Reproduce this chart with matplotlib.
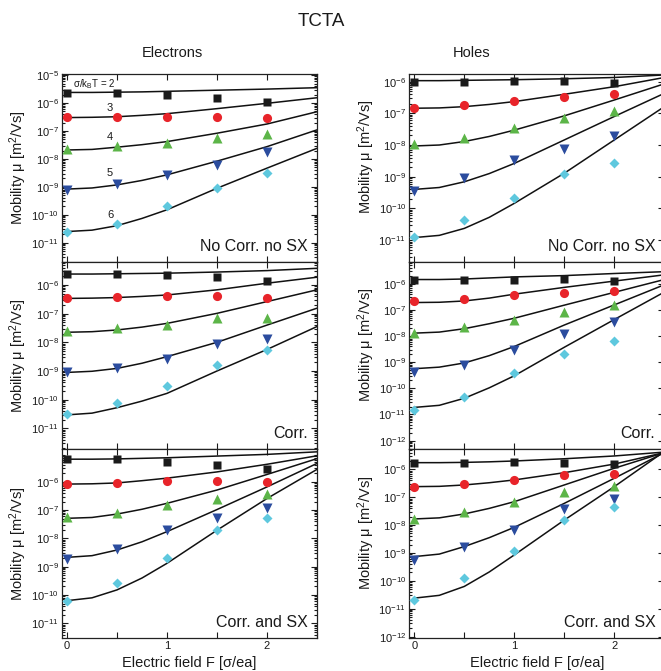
import numpy as np
import matplotlib
matplotlib.use("Agg")
import matplotlib.pyplot as plt
from matplotlib.ticker import LogLocator, NullFormatter, MultipleLocator, FixedLocator

plt.rcParams["font.family"] = ["Liberation Sans", "DejaVu Sans"]
plt.rcParams["mathtext.fontset"] = "custom"
plt.rcParams["mathtext.rm"] = "Liberation Sans"
plt.rcParams["mathtext.it"] = "Liberation Sans:italic"
plt.rcParams["mathtext.bf"] = "Liberation Sans:bold"

# field values of the simulation points and of the fitted curves [sigma/ea]
F_PTS = [0, 0.5, 1, 1.5, 2]
F_FIT = [0, 0.25, 0.5, 0.75, 1, 1.5, 2, 2.5]
SIGMAS = [2, 3, 4, 5, 6]

# log10 of mobility [m^2/Vs], one row per sigma/kBT = 2..6
el_nocorr_pts = [[-5.65, -5.65, -5.71, -5.83, -5.95],
                 [-6.49, -6.49, -6.49, -6.49, -6.52],
                 [-7.65, -7.54, -7.42, -7.26, -7.11],
                 [-9.13, -8.89, -8.57, -8.21, -7.77],
                 [-10.60, -10.32, -9.68, -9.05, -8.51]]
el_nocorr_fit = [[-5.62, -5.62, -5.61, -5.60, -5.58, -5.54, -5.50, -5.45],
                 [-6.52, -6.51, -6.49, -6.44, -6.38, -6.20, -6.01, -5.81],
                 [-7.68, -7.66, -7.58, -7.49, -7.38, -7.08, -6.75, -6.31],
                 [-9.08, -9.04, -8.93, -8.77, -8.57, -8.08, -7.56, -6.96],
                 [-10.60, -10.55, -10.39, -10.13, -9.82, -9.05, -8.33, -7.62]]

el_corr_pts = [[-5.62, -5.63, -5.67, -5.74, -5.86],
               [-6.44, -6.41, -6.38, -6.38, -6.44],
               [-7.60, -7.51, -7.40, -7.16, -7.14],
               [-9.05, -8.91, -8.58, -8.07, -7.90],
               [-10.50, -10.13, -9.51, -8.79, -8.27]]
el_corr_fit = [[-5.62, -5.62, -5.61, -5.60, -5.59, -5.55, -5.50, -5.42],
               [-6.47, -6.46, -6.44, -6.40, -6.35, -6.17, -5.94, -5.73],
               [-7.65, -7.63, -7.57, -7.47, -7.34, -6.99, -6.58, -6.17],
               [-9.05, -9.01, -8.91, -8.73, -8.50, -8.00, -7.40, -6.81],
               [-10.53, -10.47, -10.28, -10.05, -9.78, -9.00, -8.25, -7.45]]

el_sx_pts = [[-5.20, -5.21, -5.29, -5.41, -5.56],
             [-6.08, -6.04, -5.98, -5.98, -6.02],
             [-7.26, -7.09, -6.82, -6.59, -6.44],
             [-8.73, -8.39, -7.71, -7.29, -6.92],
             [-10.20, -9.56, -8.68, -7.71, -7.29]]
el_sx_fit = [[-5.20, -5.20, -5.19, -5.17, -5.15, -5.09, -5.03, -4.94],
             [-6.08, -6.07, -6.04, -5.96, -5.87, -5.65, -5.38, -5.08],
             [-7.29, -7.26, -7.14, -6.97, -6.76, -6.29, -5.74, -5.18],
             [-8.67, -8.61, -8.41, -8.12, -7.76, -6.98, -6.18, -5.35],
             [-10.20, -10.10, -9.82, -9.40, -8.88, -7.71, -6.59, -5.56]]

ho_nocorr_pts = [[-6.00, -6.00, -5.98, -5.98, -6.03],
                 [-6.82, -6.74, -6.60, -6.47, -6.40],
                 [-7.98, -7.77, -7.45, -7.16, -6.93],
                 [-9.44, -9.05, -8.47, -8.14, -7.72],
                 [-10.89, -10.37, -9.68, -8.93, -8.56]]
ho_nocorr_fit = [[-5.97, -5.97, -5.96, -5.95, -5.94, -5.91, -5.87, -5.79],
                 [-6.84, -6.83, -6.79, -6.72, -6.63, -6.40, -6.16, -5.87],
                 [-8.03, -8.00, -7.89, -7.73, -7.53, -7.08, -6.58, -6.07],
                 [-9.40, -9.34, -9.16, -8.90, -8.58, -7.84, -7.10, -6.37],
                 [-10.92, -10.85, -10.63, -10.28, -9.84, -8.89, -7.84, -6.79]]

ho_corr_pts = [[-5.86, -5.86, -5.84, -5.81, -5.90],
               [-6.68, -6.59, -6.44, -6.35, -6.29],
               [-7.89, -7.67, -7.39, -7.08, -6.82],
               [-9.37, -9.09, -8.53, -7.94, -7.46],
               [-10.81, -10.35, -9.43, -8.70, -8.18]]
ho_corr_fit = [[-5.84, -5.84, -5.82, -5.78, -5.74, -5.69, -5.61, -5.54],
               [-6.72, -6.71, -6.66, -6.55, -6.40, -6.14, -5.90, -5.66],
               [-7.89, -7.85, -7.72, -7.53, -7.32, -6.82, -6.33, -5.84],
               [-9.25, -9.19, -9.03, -8.75, -8.40, -7.58, -6.81, -6.04],
               [-10.73, -10.65, -10.38, -9.98, -9.52, -8.43, -7.37, -6.32]]

ho_sx_pts = [[-5.78, -5.76, -5.75, -5.76, -5.82],
             [-6.62, -6.53, -6.38, -6.20, -6.17],
             [-7.78, -7.54, -7.16, -6.80, -6.60],
             [-9.25, -8.77, -8.17, -7.43, -7.08],
             [-10.68, -9.91, -8.93, -7.82, -7.34]]
ho_sx_fit = [[-5.76, -5.76, -5.75, -5.73, -5.70, -5.62, -5.52, -5.38],
             [-6.62, -6.61, -6.56, -6.48, -6.38, -6.12, -5.81, -5.40],
             [-7.78, -7.74, -7.60, -7.40, -7.16, -6.56, -5.96, -5.40],
             [-9.13, -9.04, -8.77, -8.45, -8.08, -7.22, -6.32, -5.40],
             [-10.62, -10.52, -10.20, -9.68, -9.07, -7.82, -6.62, -5.36]]

panel_labels = ["No Corr. no SX", "Corr.", "Corr. and SX"]
# highest labelled decade in each panel (rows x columns)
top_decade = [[-5, -6], [-6, -6], [-6, -6]]

# marker style per sigma
markers = ["s", "o", "^", "v", "D"]
colors = ["#1a1a1a", "#e8242a", "#5cb548", "#2b4c9e", "#5ec8de"]
msizes = [6.2, 6.6, 7.2, 7.2, 5.6]

W, H = 661, 671
fig = plt.figure(figsize=(W / 100, H / 100), dpi=100)

col_left = [62, 409.3]
col_width = 255
row_top = [74, 262, 449]
row_bot = [262, 449, 638]

data = [[(el_nocorr_pts, el_nocorr_fit), (ho_nocorr_pts, ho_nocorr_fit)],
        [(el_corr_pts, el_corr_fit), (ho_corr_pts, ho_corr_fit)],
        [(el_sx_pts, el_sx_fit), (ho_sx_pts, ho_sx_fit)]]
ylims = [[(-11.69, -4.96), (-11.69, -5.76)],
         [(-11.72, -5.20), (-12.32, -5.17)],
         [(-11.52, -4.84), (-12.05, -5.27)]]

txt = "#1a1a1a"
axes = {}
for r in range(3):
    for c in range(2):
        ax = fig.add_axes([col_left[c] / W, 1 - row_bot[r] / H,
                           col_width / W, (row_bot[r] - row_top[r]) / H])
        axes[(r, c)] = ax
        pts, fit = data[r][c]
        for i in range(5):
            ax.plot(F_FIT, np.power(10.0, fit[i]), color="#111111", lw=1.1, zorder=2)
            ax.plot(F_PTS, np.power(10.0, pts[i]), ls="none", marker=markers[i],
                    ms=msizes[i], color=colors[i], mec="none", zorder=3)
        lo, hi = ylims[r][c]
        ax.set_yscale("log")
        ax.set_xlim(-0.05, 2.5)
        ax.set_ylim(10 ** lo, 10 ** hi)
        decades = [10.0 ** k for k in range(int(np.ceil(lo)), top_decade[r][c] + 1)]
        ax.yaxis.set_major_locator(FixedLocator(decades))
        ax.yaxis.set_minor_locator(LogLocator(base=10, subs=np.arange(2, 10), numticks=100))
        ax.yaxis.set_minor_formatter(NullFormatter())
        ax.xaxis.set_major_locator(MultipleLocator(1))
        ax.xaxis.set_minor_locator(MultipleLocator(0.5))
        ax.tick_params(which="both", direction="in", top=True, right=True,
                       colors=txt, labelsize=8, width=0.8, pad=2.5)
        ax.tick_params(which="major", length=4)
        ax.tick_params(which="minor", axis="y", length=2)
        ax.tick_params(which="minor", axis="x", length=4)
        for s in ax.spines.values():
            s.set_linewidth(0.9)
            s.set_color("#222222")
        ax.set_ylabel("Mobility μ [m$^2$/Vs]", fontsize=10.5, color=txt)
        if c == 0:
            ax.yaxis.set_label_coords(-0.129, 0.5)
        else:
            ax.yaxis.set_label_coords(-0.127, 0.56)
        if r < 2:
            ax.tick_params(axis="x", labelbottom=False)
        else:
            ax.set_xlabel("Electric field F [σ/ea]", fontsize=10.5, color=txt, labelpad=3)
        ax.text(0.965, 0.06, panel_labels[r], transform=ax.transAxes, ha="right",
                va="baseline", fontsize=11.5, color=txt)

# sigma/kBT annotations on the first panel
ax = axes[(0, 0)]
ax.text(0.057, 10 ** -5.32, "σ/k$_\\mathrm{B}$T = 2", va="center", fontsize=7, color=txt)
for s, ly in zip(SIGMAS[1:], [-6.18, -7.21, -8.50, -10.0]):
    ax.text(0.43, 10 ** ly, str(s), ha="center", va="center", fontsize=8, color=txt)

fig.text(321.7 / W, 1 - 22 / H, "TCTA", ha="center", va="center", fontsize=13.5, color=txt)
fig.text(172 / W, 1 - 53 / H, "Electrons", ha="center", va="center", fontsize=10.5, color=txt)
fig.text(472 / W, 1 - 53 / H, "Holes", ha="center", va="center", fontsize=10.5, color=txt)

fig.savefig("out.png", dpi=100)
